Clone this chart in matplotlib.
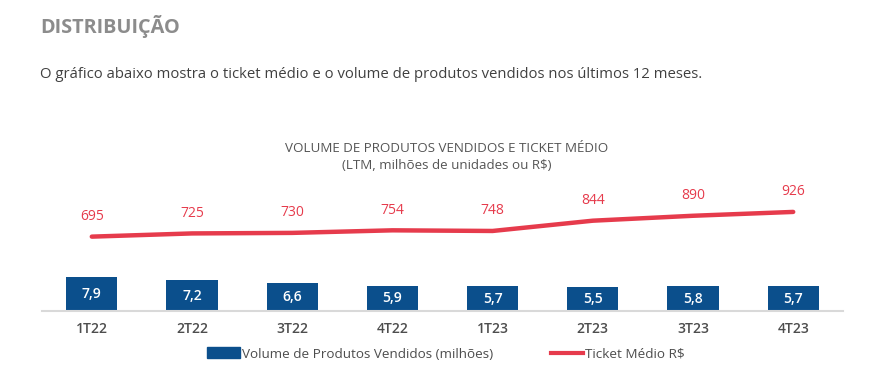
import matplotlib
matplotlib.use("Agg")
import matplotlib.pyplot as plt
from matplotlib.patches import Patch
from matplotlib.lines import Line2D

plt.rcParams["font.family"] = ["Open Sans", "DejaVu Sans"]

quarters = ["1T22", "2T22", "3T22", "4T22", "1T23", "2T23", "3T23", "4T23"]
volume = [7.9, 7.2, 6.6, 5.9, 5.7, 5.5, 5.8, 5.7]
ticket = [695, 725, 730, 754, 748, 844, 890, 926]

BLUE = "#0B4F8C"
RED = "#E63B4C"

W, H = 890, 390
fig = plt.figure(figsize=(W / 100, H / 100), dpi=100)

fig.text(40 / W, 1 - 26 / H, "DISTRIBUIÇÃO", fontsize=14.3, fontweight="bold",
         color="#8C8C8C", va="center", ha="left")
fig.text(40 / W, 1 - 74 / H,
         "O gráfico abaixo mostra o ticket médio e o volume de produtos vendidos nos últimos 12 meses.",
         fontsize=10.75, color="#404040", va="center", ha="left")
fig.text(447 / W, 1 - 148 / H, "VOLUME DE PRODUTOS VENDIDOS E TICKET MÉDIO",
         fontsize=9.6, color="#555555", va="center", ha="center")
fig.text(447 / W, 1 - 165 / H, "(LTM, milhões de unidades ou R$)",
         fontsize=9.6, color="#555555", va="center", ha="center")

left, right = 41.7, 843.3
base, top = 311, 181
ax = fig.add_axes([left / W, 1 - base / H, (right - left) / W, (base - top) / H])
x = list(range(len(quarters)))
ax.bar(x, volume, width=0.51, color=BLUE, zorder=2)
for xi, v in zip(x, volume):
    ax.text(xi, v / 2, f"{v:.1f}".replace(".", ","), color="white", fontsize=10,
            fontweight="semibold", ha="center", va="center", zorder=3)
ax.set_xlim(-0.5, len(quarters) - 0.5)
ax.set_ylim(0, (base - top) / 4.3)
ax.set_yticks([])
ax.set_xticks(x, quarters)
ax.tick_params(axis="x", length=0, pad=8, labelsize=10, labelcolor="#4D4D4D")
for lbl in ax.get_xticklabels():
    lbl.set_fontweight("semibold")
for s in ["top", "left", "right"]:
    ax.spines[s].set_visible(False)
ax.spines["bottom"].set_color("#D9D9D9")
ax.spines["bottom"].set_linewidth(1.5)
ax.patch.set_alpha(0)

ax2 = ax.twinx()
ax2.plot(x, ticket, color=RED, linewidth=3.2, solid_capstyle="round", zorder=3)
for xi, v in zip(x, ticket):
    ax2.annotate(str(v), (xi, v), xytext=(0, 20), textcoords="offset pixels",
                 ha="center", va="center", color=RED, fontsize=10)
ax2.set_ylim(0, (base - top) / 0.107)
ax2.set_yticks([])
for s in ax2.spines.values():
    s.set_visible(False)

handles = [Patch(color=BLUE), Line2D([], [], color=RED, linewidth=3)]
labels = ["Volume de Produtos Vendidos (milhões)", "Ticket Médio R$"]
fig.legend(handles, labels, loc="center", bbox_to_anchor=(446 / W, 1 - 354 / H),
           ncol=2, frameon=False, fontsize=9.7, handlelength=2.4, handleheight=0.85,
           handletextpad=0.15, columnspacing=4.3, labelcolor="#4D4D4D")

fig.savefig("out.png", dpi=100)
